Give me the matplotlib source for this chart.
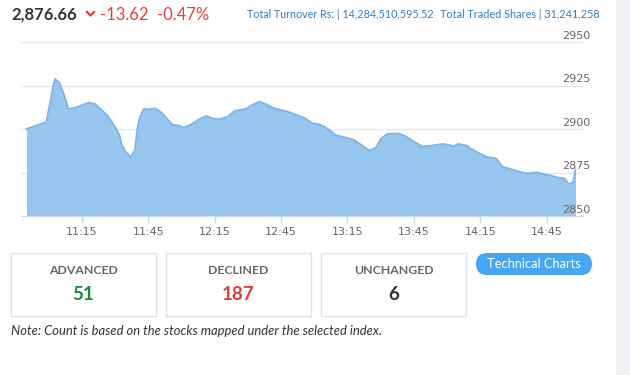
import matplotlib.pyplot as plt
from matplotlib.patches import Rectangle, FancyBboxPatch

# index values through the day
times = ["10:50", "10:59", "11:00", "11:01", "11:02", "11:03", "11:05", "11:07", "11:09",
         "11:12", "11:15", "11:18", "11:21", "11:24", "11:27", "11:30", "11:32", "11:33",
         "11:35", "11:36", "11:37", "11:39", "11:40", "11:41", "11:43", "11:45", "11:48",
         "11:51", "11:54", "11:56", "11:59", "12:01", "12:04", "12:08", "12:11", "12:14",
         "12:17", "12:21", "12:24", "12:29", "12:32", "12:35", "12:38", "12:42", "12:48",
         "12:51", "12:56", "12:59", "13:02", "13:05", "13:10", "13:14", "13:18", "13:22",
         "13:25", "13:28", "13:30", "13:33", "13:38", "13:41", "13:45", "13:49", "13:53",
         "13:58", "14:01", "14:03", "14:05", "14:09", "14:11", "14:16", "14:18", "14:22",
         "14:25", "14:29", "14:32", "14:36", "14:41", "14:44", "14:47", "14:50", "14:53",
         "14:55", "14:57", "14:58"]
values = [2900.1, 2904.1, 2911.0, 2916.8, 2924.5, 2928.9, 2926.4, 2919.7, 2911.6,
          2912.4, 2913.7, 2915.3, 2914.5, 2911.0, 2907.2, 2901.4, 2896.6, 2890.9,
          2886.5, 2885.7, 2883.8, 2888.0, 2899.5, 2906.2, 2911.6, 2911.4, 2912.0,
          2909.5, 2905.3, 2902.6, 2902.0, 2900.9, 2902.4, 2905.7, 2907.6, 2906.2,
          2905.7, 2907.2, 2910.5, 2911.6, 2913.9, 2915.8, 2914.5, 2912.0, 2910.1,
          2908.6, 2906.2, 2903.4, 2902.8, 2901.1, 2896.3, 2895.3, 2893.8, 2890.3,
          2887.6, 2889.5, 2894.4, 2897.2, 2897.6, 2896.1, 2892.8, 2890.0, 2890.5,
          2891.5, 2890.9, 2890.0, 2891.5, 2890.5, 2888.6, 2885.1, 2884.0, 2883.2,
          2878.4, 2876.9, 2875.7, 2874.6, 2875.0, 2874.0, 2873.3, 2872.1, 2871.7,
          2868.4, 2869.4, 2876.7]

x_ticks = ["11:15", "11:45", "12:15", "12:45", "13:15", "13:45", "14:15", "14:45"]
y_ticks = [2850, 2875, 2900, 2925, 2950]

close_val = "2,876.66"
change = "-13.62"
change_pct = "-0.47%"
turnover = "Total Turnover Rs: | 14,284,510,595.52"
traded = "Total Traded Shares | 31,241,258"

box_labels = ["ADVANCED", "DECLINED", "UNCHANGED"]
box_counts = ["51", "187", "6"]
box_colors = ["#1a8a3a", "#e53a3a", "#333333"]
note = "Note: Count is based on the stocks mapped under the selected index."

W, H = 630, 375


def mins(t):
    h, m = t.split(":")
    return int(h) * 60 + int(m)


fig = plt.figure(figsize=(6.3, 3.75), dpi=100)
fig.patch.set_facecolor("white")

# page axes in pixel units, for the header, boxes and button
page = fig.add_axes([0, 0, 1, 1], zorder=-1)
page.set_xlim(0, W)
page.set_ylim(H, 0)
page.axis("off")

page.add_patch(Rectangle((616, 0), 14, H, facecolor="#f3f4f8", edgecolor="none"))

# chart
ax = fig.add_axes([20.7 / W, 1 - 216 / H, (583 - 20.7) / W, (216 - 42.3) / H])
ax.patch.set_alpha(0)
xs = [mins(t) for t in times]
ax.fill_between(xs, values, 2850, color="#96c5ee", linewidth=0)
ax.plot(xs, values, color="#7db3e6", linewidth=1.3)

ax.set_ylim(2850, 2950)
ax.set_xlim(647.4, 901.4)
ax.set_yticks(y_ticks)
ax.set_xticks([mins(t) for t in x_ticks])
ax.set_xticklabels(x_ticks)
ax.grid(axis="y", color="#e6e6e6", linewidth=1)
ax.set_axisbelow(True)
for s in ["top", "right", "left"]:
    ax.spines[s].set_visible(False)
ax.spines["bottom"].set_color("#ccd6eb")
ax.tick_params(axis="x", colors="#ccd6eb", length=5, width=1, pad=3,
               labelcolor="#666666", labelsize=8)
ax.tick_params(axis="y", length=0, labelleft=False)

# y labels sit above their grid lines, right of the plot
for v in y_ticks:
    ax.annotate(str(v), xy=(1, v), xycoords=ax.get_yaxis_transform(),
                xytext=(5.2, 4.5), textcoords="offset points",
                ha="right", va="center", fontsize=8, color="#666666")

# header
page.text(11, 15, close_val, fontsize=12, fontweight="bold",
          family="Lato", color="#333333", va="center")
page.plot([87, 90.5, 94], [12, 15.5, 12], color="#e53a3a", linewidth=1.6)
page.text(100, 15, change, fontsize=12, family="Lato", color="#e8403b", va="center")
page.text(157, 15, change_pct, fontsize=12, family="Lato", color="#e8403b", va="center")
page.text(247, 15, turnover, fontsize=7.75, family="Lato", color="#2f7fc1", va="center")
page.text(600, 15, traded, fontsize=7.8, family="Lato", color="#2f7fc1",
          va="center", ha="right")

# count boxes
box_left = [11.3, 166.3, 321.3]
for i in range(3):
    x0 = box_left[i]
    page.add_patch(Rectangle((x0, 253.3), 144.5, 316 - 253.3, facecolor="white",
                             edgecolor="#e2e2e2", linewidth=1))
    page.text(x0 + 72.2, 271, box_labels[i], fontsize=8.8, fontweight="bold",
              family="Lato", color="#666666", ha="center", va="center")
    page.text(x0 + 72.2, 294, box_counts[i], fontsize=13.5, fontweight="bold",
              family="Lato", color=box_colors[i], ha="center", va="center")

# button
page.add_patch(FancyBboxPatch((476, 253), 116, 22,
                              boxstyle="round,pad=0,rounding_size=11",
                              facecolor="#45a6f4", edgecolor="none"))
page.text(534, 264, "Technical Charts", fontsize=9.3, family="Lato",
          color="white", ha="center", va="center")

page.text(11, 331, note, fontsize=9.4, family="Lato", style="italic",
          color="#333333", va="center")

fig.savefig("out.png", dpi=100)
